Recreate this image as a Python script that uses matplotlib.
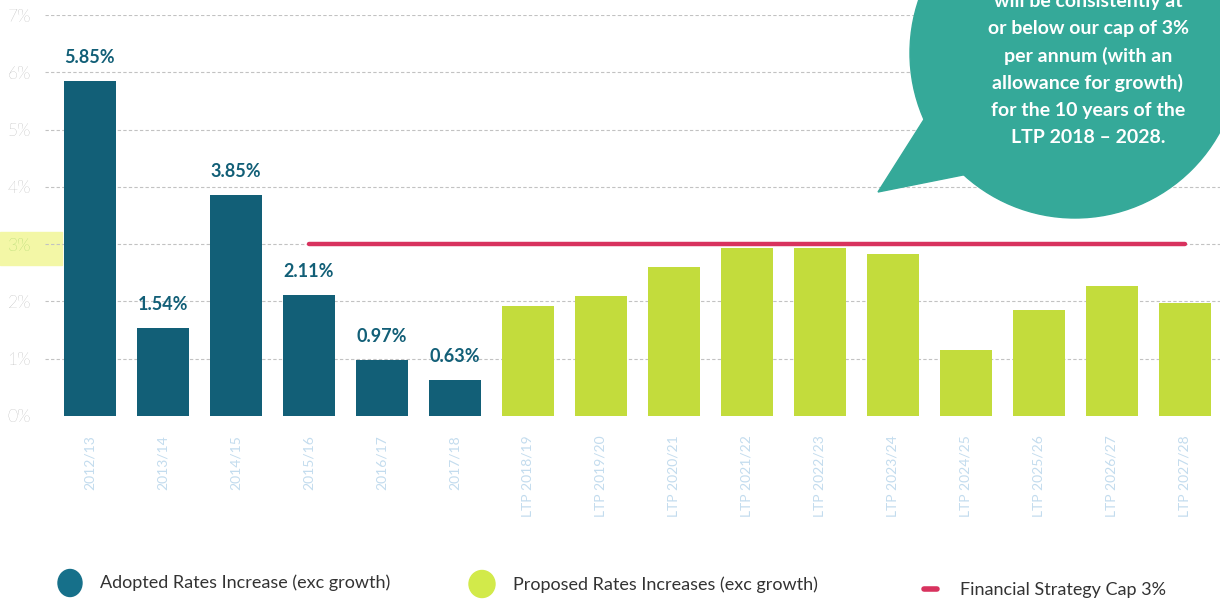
import matplotlib
matplotlib.use('AGG')
import matplotlib.pyplot as plt
from matplotlib.patches import Circle, Polygon, Rectangle, Ellipse
from matplotlib.transforms import IdentityTransform

# data
adopted_years = ['2012/13', '2013/14', '2014/15', '2015/16', '2016/17', '2017/18']
adopted = [5.85, 1.54, 3.85, 2.11, 0.97, 0.63]
proposed_years = ['LTP 2018/19', 'LTP 2019/20', 'LTP 2020/21', 'LTP 2021/22', 'LTP 2022/23',
                  'LTP 2023/24', 'LTP 2024/25', 'LTP 2025/26', 'LTP 2026/27', 'LTP 2027/28']
proposed = [1.92, 2.09, 2.60, 2.94, 2.94, 2.83, 1.15, 1.85, 2.27, 1.98]
cap_value = 3.0
cap_from = '2015/16'
y_ticks = [0, 1, 2, 3, 4, 5, 6, 7]

TEAL = '#125f77'
LIME = '#c3dc3c'
RED = '#d8325e'
BUBBLE = '#35a999'

plt.rcParams['font.family'] = ['Lato', 'DejaVu Sans']

W, H = 1220, 602
fig = plt.figure(figsize=(W / 100, H / 100), dpi=100)
ax = fig.add_axes([45 / W, 1 - 416 / H, 1 - 45 / W, (416 - 15) / H])
ax.set_facecolor('none')

labels = adopted_years + proposed_years
xa = list(range(len(adopted)))
xp = list(range(len(adopted), len(labels)))
bw = 0.71

bars = ax.bar(xa, adopted, width=bw, color=TEAL, zorder=3)
ax.bar(xp, proposed, width=bw, color=LIME, zorder=3)
for b, v in zip(bars, adopted):
    ax.annotate(f'{v:.2f}%', (b.get_x() + b.get_width() / 2, v), xytext=(0, 11),
                textcoords='offset points', ha='center', va='bottom',
                fontsize=13, fontweight='bold', color=TEAL)

i0 = labels.index(cap_from)
ax.plot([i0, len(labels) - 1], [cap_value, cap_value], color=RED, lw=3.2,
        solid_capstyle='round', zorder=4)

ax.set_xlim(-0.616, 15.48)
ax.set_ylim(0, 7)
ax.set_yticks(y_ticks)
ax.set_yticklabels([f'{t}%' for t in y_ticks], fontsize=12.5, color='#8c8c8c', fontweight='light')
ax.get_yticklabels()[3].set_color('#7cc04a')
ax.set_xticks(range(len(labels)))
ax.set_xticklabels(labels, rotation=90, fontsize=10, color='#c3dcee', va='top')
ax.tick_params(axis='x', length=0, pad=14)
ax.tick_params(axis='y', length=0, pad=10)
for s in ax.spines.values():
    s.set_visible(False)
for t in y_ticks[1:]:
    ax.axhline(t, color='#c2c2c2', lw=0.8, ls=(0, (3, 2)), zorder=1)

# 3% highlight behind the tick label
fig.add_artist(Rectangle((0, H - 265), 62, 33, transform=IdentityTransform(),
                         color='#f3f7a6', zorder=-1))

# overlay for speech bubble and legend, in pixel coords
ov = fig.add_axes([0, 0, 1, 1])
ov.set_xlim(0, W)
ov.set_ylim(H, 0)
ov.axis('off')
ov.patch.set_alpha(0)

ov.add_patch(Circle((1075, 53), 165, color=BUBBLE, zorder=5))
ov.add_patch(Polygon([(878, 192), (930, 110), (990, 150), (968, 174)], color=BUBBLE, zorder=5))
bubble_lines = ['will be consistently at', 'or below our cap of 3%', 'per annum (with an',
                'allowance for growth)', 'for the 10 years of the', 'LTP 2018 \u2013 2028.']
for k, line in enumerate(bubble_lines):
    ov.text(1088, 1 + 27.3 * k, line, ha='center', va='center', color='white',
            fontsize=14, fontweight='bold', zorder=6)

# legend
ov.add_patch(Ellipse((70, 583), 24, 27, color='#16708a', zorder=5))
ov.text(100, 583, 'Adopted Rates Increase (exc growth)', va='center', fontsize=13, color='#333333')
ov.add_patch(Ellipse((482, 584), 26, 27, color='#d2ea4a', zorder=5))
ov.text(513, 585, 'Proposed Rates Increases (exc growth)', va='center', fontsize=13, color='#333333')
ov.plot([924, 937], [589, 589], color=RED, lw=4, solid_capstyle='round')
ov.text(960, 590, 'Financial Strategy Cap 3%', va='center', fontsize=13, color='#333333')

fig.savefig('out.png', dpi=100)
plt.close(fig)
